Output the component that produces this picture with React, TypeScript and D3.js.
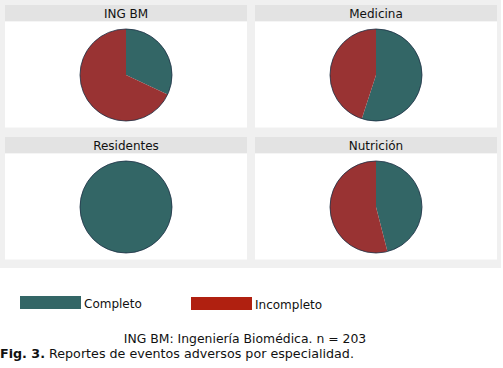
import React from "react";
import * as d3 from "d3";

const panels = ["ING BM", "Medicina", "Residentes", "Nutrición"];
const completo = [32, 55, 100, 46];
const incompleto = [68, 45, 0, 54];
const legendLabels = ["Completo", "Incompleto"];
const sliceColors = ["#336666", "#993333"];
const legendColors = ["#336666", "#b02010"];

const W = 503;
const H = 368;
const font = "DejaVu Sans, Verdana, sans-serif";

export default function App() {
  const pie = d3.pie<number>().sort(null).value((d) => d);
  const r = 46;
  const arc = d3.arc<d3.PieArcDatum<number>>().innerRadius(0).outerRadius(r);
  const cols = [5, 255];
  const rows = [5, 137];
  const pw = 242;
  return (
    <svg width={W} height={H} style={{ position: "absolute", left: 0, top: 0, background: "#fff" }}>
      <rect x={0} y={0} width={501} height={268} fill="#f0f0f0" />
      {panels.map((p, i) => {
        const x0 = cols[i % 2];
        const y0 = rows[Math.floor(i / 2)];
        const arcs = pie([completo[i], incompleto[i]]);
        const cx = x0 + pw / 2;
        const cy = y0 + 16 + 54;
        return (
          <g key={p}>
            <rect x={x0} y={y0} width={pw} height={16.5} fill="#e3e3e3" />
            <rect x={x0} y={y0 + 16.5} width={pw} height={106} fill="#ffffff" />
            <text x={cx} y={y0 + 12.5} textAnchor="middle" fontFamily={font} fontSize={12} fill="#111">
              {p}
            </text>
            <g transform={`translate(${cx},${cy})`}>
              {arcs.map((a, j) =>
                a.value > 0 ? (
                  <path key={j} d={arc(a) || ""} fill={sliceColors[j]} stroke="none" />
                ) : null
              )}
              <circle r={r} fill="none" stroke="#1c2e44" strokeWidth={0.8} />
            </g>
          </g>
        );
      })}
      {legendLabels.map((l, i) => {
        const lx = [20, 191][i];
        return (
          <g key={l}>
            <rect x={lx} y={296 + i} width={61} height={13} fill={legendColors[i]} />
            <text x={lx + 64} y={307.5 + i} fontFamily={font} fontSize={12} fill="#111">
              {l}
            </text>
          </g>
        );
      })}
      <text x={245} y={343} textAnchor="middle" fontFamily={font} fontSize={12.4} fill="#111">
        ING BM: Ingeniería Biomédica. n = 203
      </text>
      <text x={0} y={358} fontFamily={font} fontSize={12.7} fill="#111">
        <tspan fontWeight="bold">Fig. 3.</tspan> Reportes de eventos adversos por especialidad.
      </text>
    </svg>
  );
}
